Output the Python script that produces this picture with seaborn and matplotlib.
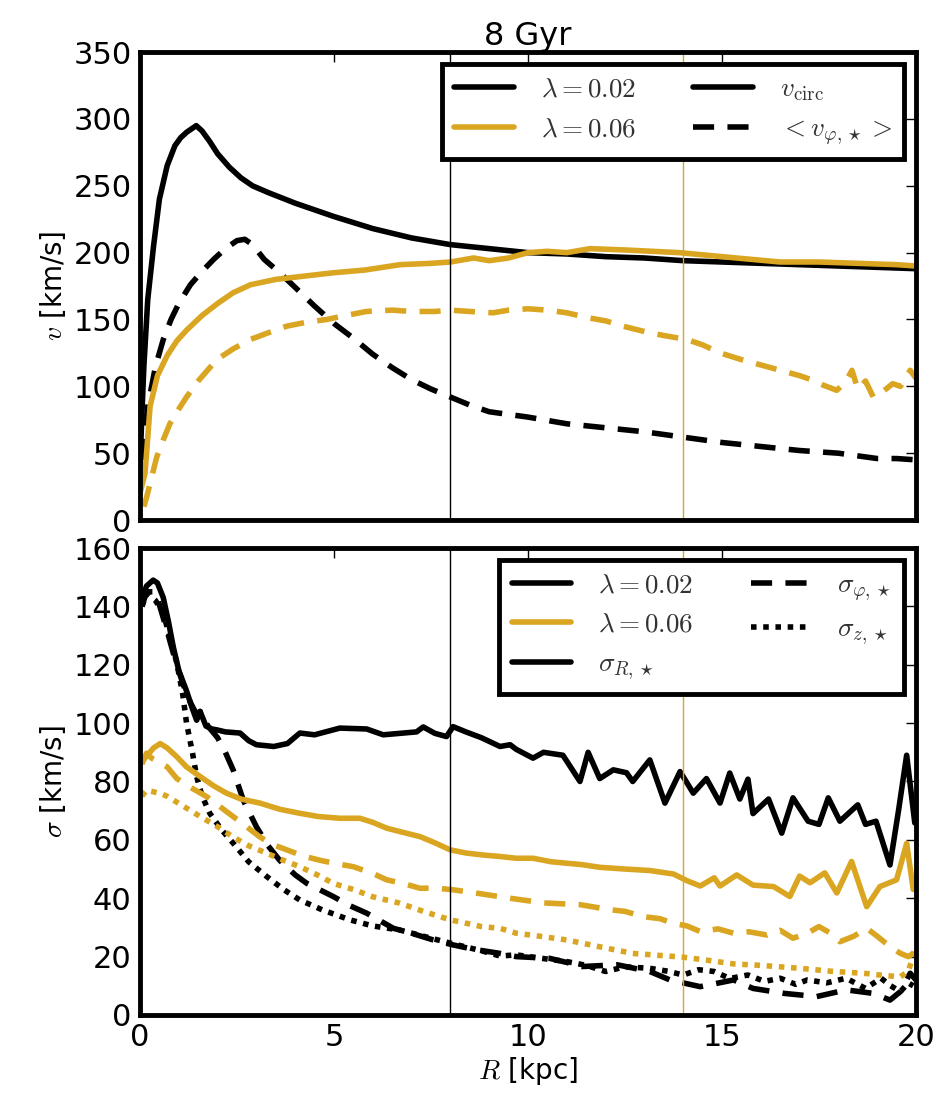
import numpy as np
import pandas as pd
import seaborn as sns
import matplotlib
matplotlib.use("Agg")
import matplotlib.pyplot as plt
from matplotlib.lines import Line2D

# ---- data (R in kpc, velocities in km/s) ----
# top panel: rotation curves
R_vc_002 = [0.0, 0.05, 0.1, 0.2, 0.35, 0.5, 0.7, 0.9, 1.05, 1.2,
            1.35, 1.45, 1.6, 1.8, 2.0, 2.3, 2.6, 2.9, 3.3, 4.0,
            5.0, 6.0, 7.0, 8.0, 9.0, 10.0, 11.0, 12.0, 13.0, 14.0,
            15.0, 16.0, 17.0, 18.0, 19.0, 20.0]
vc_002 = [40, 80, 115, 165, 205, 240, 265, 280, 286, 290,
          293, 295, 291, 283, 274, 264, 256, 250, 245, 237,
          227, 218, 211, 206, 203, 200, 199, 197, 196, 194,
          193, 192, 191, 190, 189, 188]

R_vphi_002 = [0.05, 0.2, 0.4, 0.6, 0.8, 1.0, 1.3, 1.6, 1.9, 2.2,
              2.5, 2.7, 2.9, 3.2, 3.6, 4.0, 4.5, 5.0, 5.5, 6.0,
              6.5, 7.0, 7.5, 8.0, 8.5, 9.0, 10.0, 11.0, 12.0, 13.0,
              14.0, 15.0, 16.0, 17.0, 18.0, 19.0, 19.5, 20.0]
vphi_002 = [45, 85, 115, 135, 150, 162, 176, 186, 195, 203,
            209, 210, 206, 195, 185, 174, 160, 147, 136, 124,
            114, 105, 98, 92, 86, 81, 77, 72, 69, 66,
            62, 58, 55, 52, 50, 46, 46, 45]

R_vc_006 = [0.0, 0.13, 0.26, 0.45, 0.7, 0.95, 1.2, 1.6, 2.0, 2.4,
            2.85, 3.5, 4.1, 5.0, 5.8, 6.7, 7.5, 8.0, 8.6, 9.0,
            9.5, 10.0, 10.5, 11.0, 11.6, 12.5, 13.9, 15.0, 16.5, 17.5,
            18.5, 19.5, 20.0]
vc_006 = [20, 35, 85, 108, 123, 134, 142, 153, 162, 170,
          176, 180, 182, 185, 187, 191, 192, 193, 196, 194,
          196, 200, 201, 200, 203, 202, 200, 197, 193, 193,
          192, 191, 190]

R_vphi_006 = [0.1, 0.17, 0.3, 0.43, 0.6, 0.77, 1.0, 1.2, 1.5, 1.98,
              2.4, 2.84, 3.3, 3.78, 4.3, 4.81, 5.3, 5.84, 6.5, 7.0,
              7.6, 8.0, 8.5, 9.1, 9.5, 10.0, 10.5, 11.0, 11.6, 12.0,
              12.45, 13.0, 13.5, 14.1, 14.5, 14.95, 15.5, 16.0, 16.5, 17.0,
              17.3, 17.6, 17.96, 18.2, 18.35, 18.5, 18.7, 18.9, 19.1, 19.4,
              19.6, 19.85, 20.0]
vphi_006 = [10, 17, 32, 47, 60, 72, 83, 92, 104, 120,
            128, 135, 140, 145, 148, 150, 153, 156, 157, 156,
            156, 157, 156, 155, 157, 158, 157, 155, 151, 149,
            145, 141, 138, 135, 131, 125, 120, 116, 112, 108,
            105, 101, 97, 104, 112, 98, 104, 92, 95, 102,
            100, 112, 106]

# bottom panel: velocity dispersions
R_sR_002 = [0.05, 0.17, 0.34, 0.45, 0.6, 0.73, 0.86, 1.0, 1.2, 1.35,
            1.46, 1.55, 1.7, 1.85, 1.98, 2.2, 2.58, 2.8, 3.0, 3.45,
            3.8, 4.12, 4.5, 5.15, 5.84, 6.27, 6.7, 7.13, 7.3, 7.6,
            7.9, 8.07, 8.4, 8.8, 9.28, 9.54, 9.7, 10.13, 10.4, 10.9,
            11.34, 11.55, 11.85, 12.2, 12.54, 12.7, 13.14, 13.53, 13.92, 14.26,
            14.6, 14.95, 15.2, 15.46, 15.67, 15.8, 16.2, 16.54, 16.83, 17.22,
            17.5, 17.74, 18.04, 18.5, 18.7, 18.97, 19.33, 19.55, 19.76, 19.97]
sR_002 = [143, 147, 149, 148, 143, 135, 126, 118, 111, 105,
          101, 104, 99, 98, 97.7, 97, 96.6, 94, 92.6, 92,
          93, 96.6, 96, 98.3, 98, 96, 96.5, 97, 98.7, 96.5,
          95.4, 98.8, 97, 95, 92, 92.6, 91, 88, 90, 89,
          80, 90, 81, 84, 83, 80, 87.4, 72.6, 83.4, 76,
          81, 72.6, 82.9, 74, 80.8, 69, 74, 62.3, 74.4, 66.4,
          65.3, 74.4, 66.4, 72, 65.3, 66.4, 51.4, 70, 89, 65.8]

R_sR_006 = [0.05, 0.17, 0.35, 0.52, 0.7, 0.94, 1.2, 1.55, 1.9, 2.23,
            2.6, 3.09, 3.6, 4.12, 4.6, 5.15, 5.67, 6.0, 6.36, 6.8,
            7.22, 7.6, 7.99, 8.4, 8.85, 9.28, 9.7, 10.13, 10.6, 11.0,
            11.4, 11.85, 12.5, 13.14, 13.75, 14.1, 14.44, 14.8, 14.95, 15.38,
            15.8, 16.33, 16.75, 17.0, 17.27, 17.65, 17.96, 18.34, 18.73, 19.07,
            19.5, 19.76, 19.93]
sR_006 = [87, 88.6, 91.5, 93, 91.5, 88.6, 85, 81.7, 78.5, 76,
          74, 72.6, 70.5, 69.1, 68, 67.4, 67.4, 66, 64, 62.5,
          61.1, 59, 56.6, 55.5, 54.8, 54.3, 53.7, 53.7, 52.5, 52,
          51.5, 50.6, 50, 49.5, 48.3, 46, 44.2, 47, 44.2, 48,
          44.5, 44, 40.6, 47.6, 45.3, 48.7, 41.8, 52.6, 37.1, 44,
          46.3, 58.8, 43]

R_sphi_002 = [0.05, 0.17, 0.4, 0.69, 0.9, 1.12, 1.3, 1.46, 1.55, 1.75,
              2.0, 2.2, 2.4, 2.66, 3.0, 3.3, 3.6, 4.0, 4.3, 4.98,
              5.4, 5.84, 6.53, 7.0, 7.56, 8.07, 8.6, 9.28, 9.7, 10.56,
              11.0, 11.4, 12.3, 13.14, 13.66, 14.44, 15.3, 15.8, 16.6, 17.44,
              18.2, 18.9, 19.33, 19.6, 19.85, 20.0]
sphi_002 = [140, 145, 145, 132, 122, 113, 107, 103, 104, 99,
            95, 90, 84, 73.7, 64.5, 58, 53, 48, 45.1, 40.6,
            37.5, 34.9, 29.7, 28, 25.7, 24, 22.5, 21.1, 20, 19.4,
            18, 16.6, 17.2, 14.9, 12, 9.7, 12, 9.1, 7.4, 6.3,
            8.6, 7.4, 5.1, 8, 14.3, 12]

R_sz_002 = [0.05, 0.17, 0.4, 0.6, 0.8, 0.95, 1.1, 1.2, 1.35, 1.46,
            1.6, 1.8, 2.1, 2.4, 2.8, 3.27, 3.7, 4.12, 4.7, 5.41,
            6.0, 6.7, 7.3, 8.0, 8.8, 9.28, 9.7, 10.3, 11.0, 11.5,
            12.0, 12.5, 13.14, 13.6, 14.0, 14.4, 14.8, 15.2, 15.67, 16.1,
            16.5, 16.9, 17.2, 17.7, 18.2, 18.7, 19.1, 19.35, 19.6, 19.8,
            19.93]
sz_002 = [140, 144.5, 142, 137.7, 128, 120.6, 110, 100, 90, 81.7,
          75, 69.1, 63.5, 58.9, 52.5, 47.4, 43, 39.4, 36, 32.6,
          30.5, 29.1, 27, 24.6, 22, 20.2, 20.6, 19.5, 18.3, 17,
          14.9, 16.5, 16, 15, 13.7, 15.5, 14.9, 12.5, 13.7, 11.5,
          12.6, 10.5, 12, 11, 12.6, 9.1, 12.6, 10, 8, 11,
          10]

R_sphi_006 = [0.05, 0.17, 0.3, 0.44, 0.7, 0.95, 1.3, 1.72, 2.05, 2.4,
              2.75, 3.09, 3.4, 3.78, 4.2, 4.64, 5.0, 5.5, 6.0, 6.36,
              6.8, 7.22, 7.6, 8.07, 8.8, 9.54, 10.4, 11.34, 12.1, 12.5,
              12.97, 13.4, 13.75, 14.1, 14.44, 14.9, 15.3, 15.7, 16.16, 16.5,
              16.83, 17.2, 17.5, 17.8, 18.04, 18.4, 18.73, 19.0, 19.33, 19.6,
              19.8, 19.93, 20.0]
sphi_006 = [86, 89.7, 88, 87, 85, 81, 78, 74.8, 71.5, 68,
            64.5, 61, 58.5, 56.6, 54.5, 53, 52, 50.8, 48.5, 46.3,
            45, 43.4, 43.5, 42.9, 41.5, 40, 38.4, 37.8, 36.1, 35.5,
            33.7, 33, 31.4, 30.5, 28.6, 29.5, 28, 28.5, 27.4, 29,
            26.3, 28, 30.3, 28, 25.1, 27, 29.7, 27, 23.4, 21.1,
            20, 21, 25]

R_sz_006 = [0.05, 0.17, 0.5, 0.69, 1.0, 1.55, 2.0, 2.4, 2.8, 3.27,
            3.7, 4.12, 4.6, 4.98, 5.5, 6.0, 6.7, 7.3, 8.0, 8.8,
            9.28, 9.7, 10.3, 11.0, 11.8, 12.7, 13.3, 14.0, 14.6, 15.3,
            16.0, 17.0, 17.8, 18.73, 19.2, 19.6, 19.8, 19.93]
sz_006 = [75, 77, 76, 75, 72.5, 68, 64.5, 61, 58, 55.4,
          53, 50.8, 47.8, 45.1, 43, 40.5, 38.3, 35.5, 32.6, 30.3,
          29.7, 28, 27, 25.7, 23.5, 21.1, 20.5, 19.8, 18.8, 17.5,
          17, 16, 15, 14.2, 13.5, 13.1, 15, 20]

# radii marked by thin vertical lines
R_marks = [8, 14]

# ---- styling ----
sns.set_style("white")
plt.rcParams['font.family'] = ['DejaVu Sans']
plt.rcParams['mathtext.fontset'] = 'cm'
plt.rcParams['text.color'] = 'black'
plt.rcParams['axes.labelcolor'] = 'black'
plt.rcParams['xtick.color'] = 'black'
plt.rcParams['ytick.color'] = 'black'

gold = '#DAA520'
lw = 4
dash = (0, (3.8, 2.4))
dot = (0, (1, 1.2))

fig = plt.figure(figsize=(9.44, 11.06), dpi=100)
ax1 = fig.add_axes([0.1483, 0.5298, 0.822, 0.4231])
ax2 = fig.add_axes([0.1483, 0.0823, 0.822, 0.4222])


def draw(ax, x, y, color, ls='-'):
    sns.lineplot(x=x, y=y, ax=ax, color=color, lw=lw, linestyle=ls,
                 estimator=None, sort=False, legend=False)


# top panel
draw(ax1, R_vc_002, vc_002, 'k')
draw(ax1, R_vphi_002, vphi_002, 'k', dash)
draw(ax1, R_vc_006, vc_006, gold)
draw(ax1, R_vphi_006, vphi_006, gold, dash)

# bottom panel
draw(ax2, R_sR_002, sR_002, 'k')
draw(ax2, R_sphi_002, sphi_002, 'k', dash)
draw(ax2, R_sz_002, sz_002, 'k', dot)
draw(ax2, R_sR_006, sR_006, gold)
draw(ax2, R_sphi_006, sphi_006, gold, dash)
draw(ax2, R_sz_006, sz_006, gold, dot)

for ax in (ax1, ax2):
    ax.axvline(R_marks[0], color='k', lw=1)
    ax.axvline(R_marks[1], color=gold, lw=1)
    ax.set_xlim(0, 20)
    ax.set_xticks([0, 5, 10, 15, 20])
    for sp in ax.spines.values():
        sp.set_linewidth(3.5)
        sp.set_color('k')
    ax.tick_params(which='major', direction='in', length=7, width=1,
                   top=True, right=True, labelsize=22, pad=6,
                   color='k', labelcolor='k')

ax1.set_ylim(0, 350)
ax1.set_yticks(np.arange(0, 351, 50))
ax1.tick_params(labelbottom=False)
ax1.set_ylabel(r'$v$ [km/s]', fontsize=20)
ax1.set_xlabel('')
ax1.set_title('8 Gyr', fontsize=23, pad=4, color='k')

ax2.set_ylim(0, 160)
ax2.set_yticks(np.arange(0, 161, 20))
ax2.set_ylabel(r'$\sigma$ [km/s]', fontsize=20)
ax2.set_xlabel(r'$R$ [kpc]', fontsize=20, labelpad=2)

leg_kw = dict(loc='upper right', ncol=2, fontsize=19.5, handlelength=2.2,
              handletextpad=1.0, columnspacing=2.1, labelspacing=0.5,
              borderpad=0.45, borderaxespad=0.45, frameon=True, fancybox=False,
              labelcolor='#333333')

h_top = [Line2D([], [], color='k', lw=lw),
         Line2D([], [], color=gold, lw=lw),
         Line2D([], [], color='k', lw=lw),
         Line2D([], [], color='k', lw=lw, ls=dash)]
l_top = [r'$\lambda=0.02$', r'$\lambda=0.06$',
         r'$v_{\rm circ}$', r'$<v_{\varphi,\star}>$']
lg1 = ax1.legend(h_top, l_top, **leg_kw)

h_bot = [Line2D([], [], color='k', lw=lw),
         Line2D([], [], color=gold, lw=lw),
         Line2D([], [], color='k', lw=lw),
         Line2D([], [], color='k', lw=lw, ls=dash),
         Line2D([], [], color='k', lw=lw, ls=dot)]
l_bot = [r'$\lambda=0.02$', r'$\lambda=0.06$', r'$\sigma_{R,\star}$',
         r'$\sigma_{\varphi,\star}$', r'$\sigma_{z,\star}$']
lg2 = ax2.legend(h_bot, l_bot, **leg_kw)

for lg in (lg1, lg2):
    fr = lg.get_frame()
    fr.set_linewidth(3.5)
    fr.set_edgecolor('k')
    fr.set_alpha(1)

fig.savefig('out.png', dpi=100)
